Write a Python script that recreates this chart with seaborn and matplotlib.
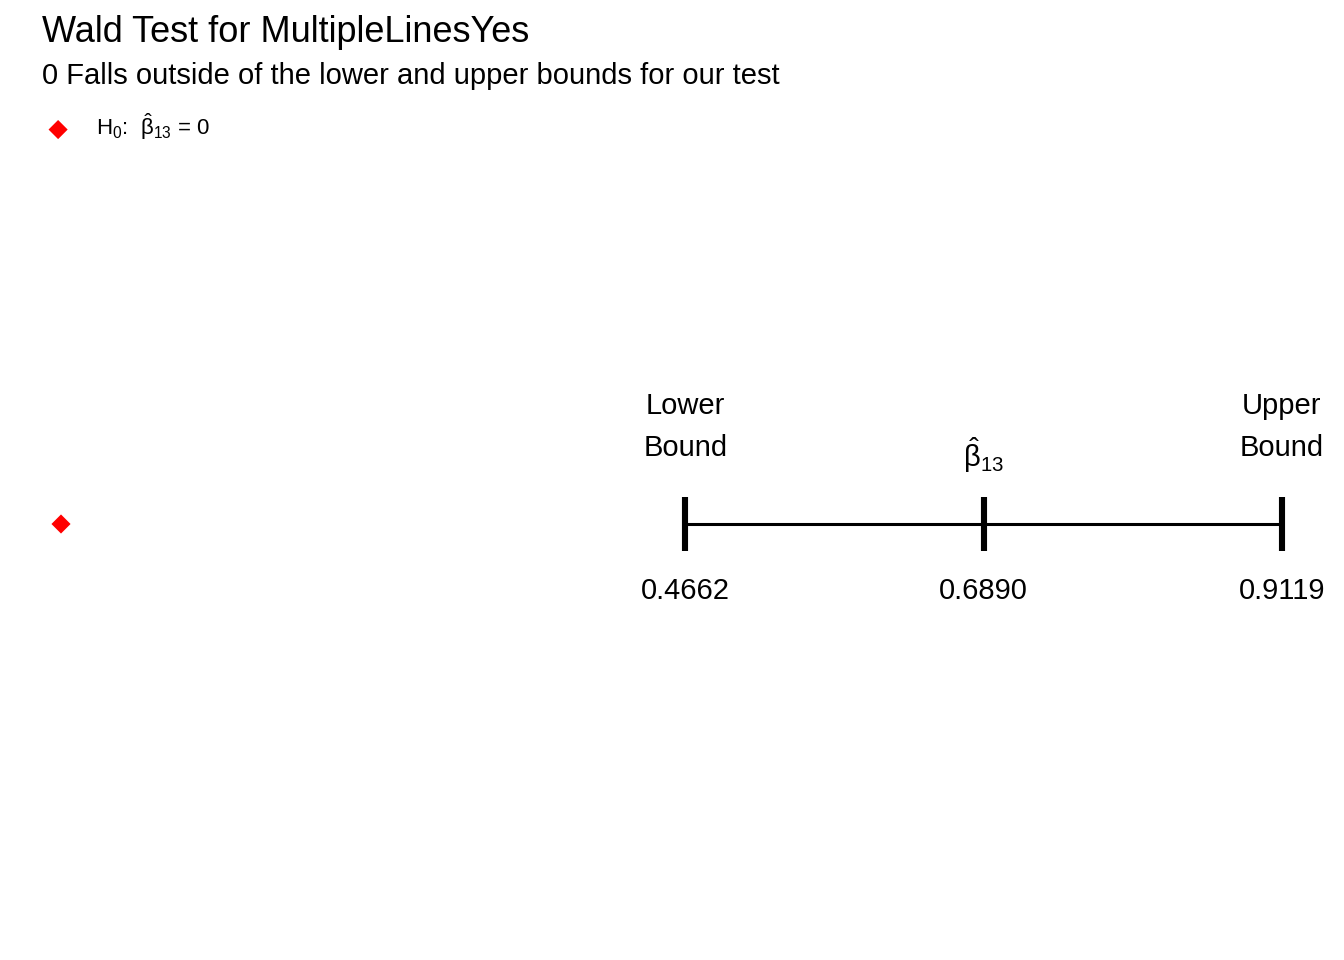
import matplotlib
matplotlib.use("Agg")
import matplotlib.pyplot as plt
import seaborn as sns
import pandas as pd

sns.set_theme(style="white")
plt.rcParams['font.family'] = ['Liberation Sans', 'DejaVu Sans']
plt.rcParams['mathtext.fontset'] = 'custom'
plt.rcParams['mathtext.rm'] = 'Liberation Sans'
plt.rcParams['mathtext.it'] = 'Liberation Sans'
plt.rcParams['mathtext.bf'] = 'Liberation Sans'

# ---- data ----
title = "Wald Test for MultipleLinesYes"
subtitle = "0 Falls outside of the lower and upper bounds for our test"
bound_names = ["Lower\nBound", r"$\hat{\beta}_{13}$", "Upper\nBound"]
bound_values = [0.4662, 0.6890, 0.9119]
bound_labels = ["0.4662", "0.6890", "0.9119"]
null_value = [0.0]
null_label = r"H$_0$:  $\hat{\beta}_{13}$ = 0"

W, H = 1344, 960
fig = plt.figure(figsize=(W / 100, H / 100), dpi=100)
ax = fig.add_axes([0, 0, 1, 1])

px_per_unit = (1282 - 61) / bound_values[2]
ax.set_xlim(-61 / px_per_unit, (W - 61) / px_per_unit)
ax.set_ylim(H, 0)
ax.axis("off")

y_line = 524
# horizontal interval
ax.hlines(y_line, bound_values[0], bound_values[2], color="black", lw=2.2)
# vertical ticks
ax.vlines(bound_values, 497, 551, color="black", lw=4.4)

# null value point
df_null = pd.DataFrame({"x": null_value, "y": [y_line] * len(null_value)})
sns.scatterplot(data=df_null, x="x", y="y", marker="D", color="#FF0000",
                s=95, edgecolor="none", ax=ax, label=null_label, legend=True)

# labels above
for v, name in zip(bound_values, bound_names):
    if "beta" in name:
        ax.text(v, 455, name, ha="center", va="center", fontsize=21, color="black")
    else:
        ax.text(v, 427, name, ha="center", va="center", fontsize=21,
                color="black", linespacing=1.65)
# numbers below
for v, lab in zip(bound_values, bound_labels):
    ax.text(v, 591, lab, ha="center", va="center", fontsize=21, color="black")

# title and subtitle
fig.text(42 / W, 1 - 32 / H, title, ha="left", va="center", fontsize=26, color="black")
fig.text(42 / W, 1 - 76 / H, subtitle, ha="left", va="center", fontsize=21, color="black")

leg = ax.legend(loc="center left", bbox_to_anchor=(47 / W, 1 - 127 / H),
                bbox_transform=fig.transFigure, frameon=False, fontsize=16,
                handletextpad=1.2, borderaxespad=0, borderpad=0,
                handlelength=1.0, markerscale=1.0)
for t in leg.get_texts():
    t.set_color("black")

fig.savefig("out.png", dpi=100)
